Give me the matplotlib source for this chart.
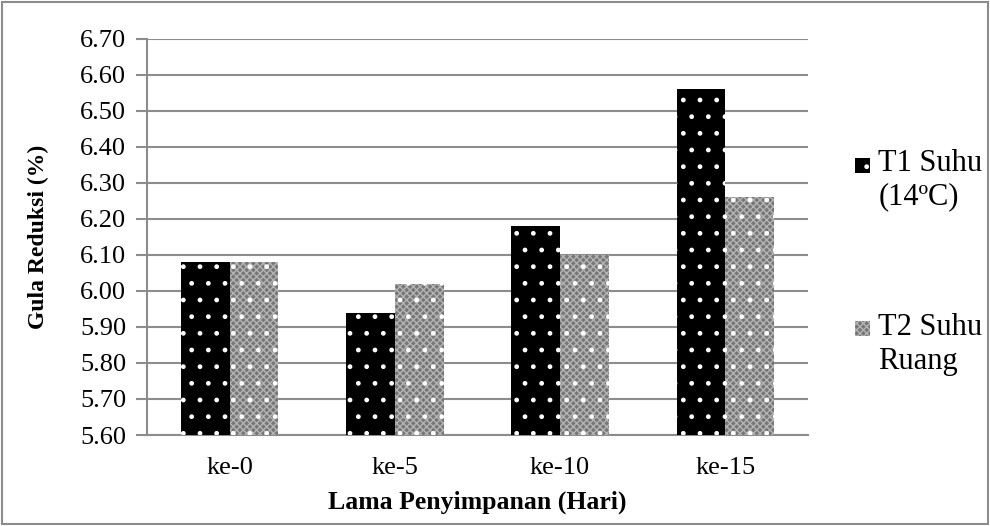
import numpy as np
import matplotlib
matplotlib.use("Agg")
import matplotlib.pyplot as plt
from matplotlib.patches import Rectangle

# ── Données ───────────────────────────────────────────────────────────────────
hari = ["ke-0", "ke-5", "ke-10", "ke-15"]
t1_suhu_14 = [6.08, 5.94, 6.18, 6.56]
t2_suhu_ruang = [6.08, 6.02, 6.10, 6.26]
label_t1 = "T1 Suhu\n(14ºC)"
label_t2 = "T2 Suhu\nRuang"
y_ticks = [5.60, 5.70, 5.80, 5.90, 6.00, 6.10, 6.20, 6.30, 6.40, 6.50, 6.60, 6.70]

plt.rcParams["font.family"] = ["Liberation Serif", "DejaVu Serif"]
plt.rcParams["hatch.linewidth"] = 1.0
gris = "#8c8c8c"
fond_t2 = "#767676"
maille_t2 = "#b4b4b4"

fig = plt.figure(figsize=(9.9, 5.26), dpi=100)
ax = fig.add_axes([0.1485, 0.173, 0.6675, 0.753])

x = np.arange(len(hari))
w = 0.295
ax.bar(x - w / 2, t1_suhu_14, w, color="black", edgecolor="white",
       linewidth=0, hatch=".", zorder=3)
# T2 : fond quadrillé fin + points blancs par-dessus
ax.bar(x + w / 2, t2_suhu_ruang, w, color=fond_t2, edgecolor=maille_t2,
       linewidth=0, hatch="xxxxx", zorder=3)
ax.bar(x + w / 2, t2_suhu_ruang, w, color="none", edgecolor="white",
       linewidth=0, hatch=".", zorder=4)

ax.set_ylim(5.60, 6.70)
ax.set_xlim(-0.5, len(hari) - 0.5)
ax.set_yticks(y_ticks)
ax.set_yticklabels([f"{v:.2f}" for v in y_ticks], fontsize=19)
ax.set_xticks(x)
ax.set_xticklabels(hari, fontsize=19)
ax.yaxis.grid(True, color=gris, linewidth=1.5, zorder=0)
ax.set_axisbelow(True)

for s in ["top", "right"]:
    ax.spines[s].set_visible(False)
for s in ["left", "bottom"]:
    ax.spines[s].set_color(gris)
    ax.spines[s].set_linewidth(1.5)
ax.tick_params(axis="y", length=8, width=1.5, color=gris, pad=7)
ax.tick_params(axis="x", length=0, pad=16)

ax.set_xlabel("Lama Penyimpanan (Hari)", fontsize=18.5, fontweight="bold", labelpad=8)
ax.set_ylabel("Gula Reduksi (%)", fontsize=17, fontweight="bold", labelpad=22)

# ── Légende (faite à la main, carré aligné sur la 1re ligne) ──────────────────
for yy, ty, lab, serie in [(0.671, 0.717, label_t1, 1), (0.361, 0.404, label_t2, 2)]:
    if serie == 1:
        fig.patches.append(Rectangle((0.8636, yy), 0.0155, 0.029, transform=fig.transFigure,
                                     facecolor="black", edgecolor="white", linewidth=0,
                                     hatch="."))
    else:
        fig.patches.append(Rectangle((0.8636, yy), 0.0155, 0.029, transform=fig.transFigure,
                                     facecolor=fond_t2, edgecolor=maille_t2, linewidth=0,
                                     hatch="xxxxx"))
    fig.text(0.887, ty, lab, fontsize=22, va="top", ha="left", linespacing=1.2)

# cadre gris autour de la figure
fig.patches.append(Rectangle((0.002, 0.003), 0.996, 0.994, transform=fig.transFigure,
                             fill=False, edgecolor=gris, linewidth=1.5))

fig.savefig("out.png", dpi=100)
